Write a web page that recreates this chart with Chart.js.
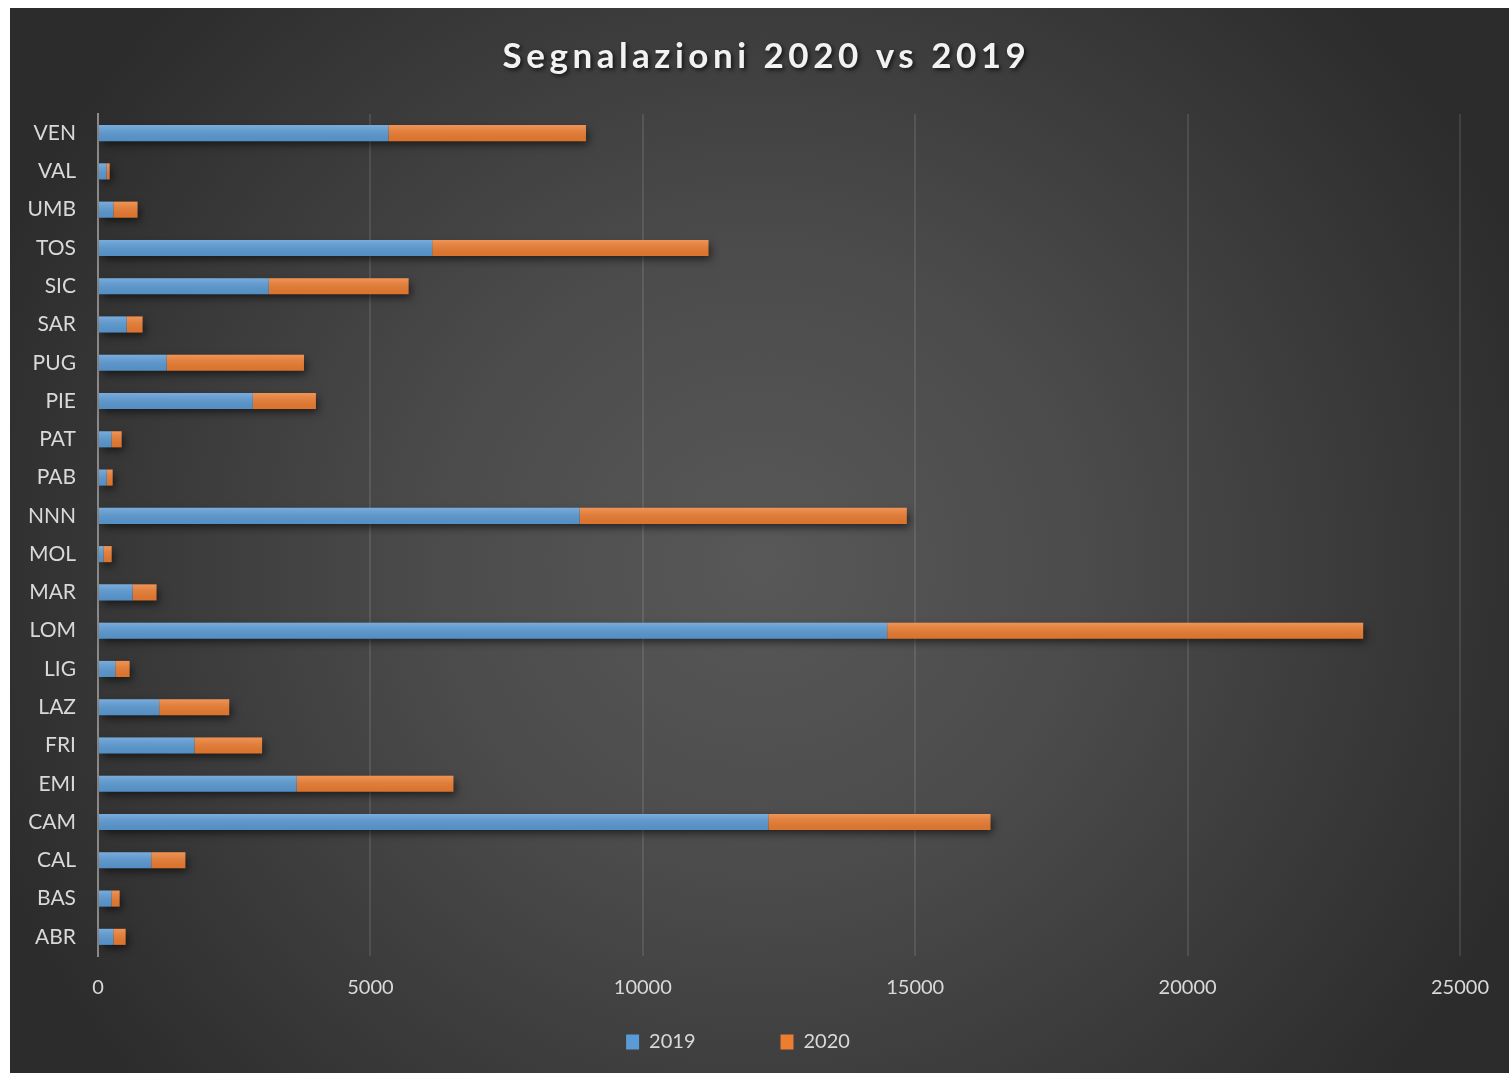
<!DOCTYPE html>
<html>
<head>
<meta charset="utf-8">
<title>Segnalazioni 2020 vs 2019</title>
<script src="https://cdn.jsdelivr.net/npm/chart.js@4"></script>
<style>
  body { margin: 0; background: #fff; }
  #wrap {
    position: absolute; left: 10px; top: 8px; width: 1499px; height: 1065px;
    background: radial-gradient(ellipse 55% 75% at 50% 52%, #585858 0%, #4b4b4b 40%, #2c2c2c 100%);
  }
</style>
</head>
<body>
<div id="wrap"><canvas id="chart" width="1499" height="1065"></canvas></div>
<script>
const TITLE = 'Segnalazioni 2020 vs 2019';

const regions = ['ABR', 'BAS', 'CAL', 'CAM', 'EMI', 'FRI', 'LAZ', 'LIG', 'LOM', 'MAR', 'MOL',
                 'NNN', 'PAB', 'PAT', 'PIE', 'PUG', 'SAR', 'SIC', 'TOS', 'UMB', 'VAL', 'VEN'];

const seg2019 = [281, 245, 977, 12304, 3647, 1769, 1123, 318, 14486, 635, 99,
                 8840, 159, 245, 2842, 1257, 525, 3135, 6134, 281, 159, 5330];

const seg2020 = [226, 152, 627, 4078, 2877, 1243, 1286, 262, 8737, 439, 152,
                 6006, 110, 189, 1158, 2524, 293, 2566, 5072, 445, 55, 3627];

const xTicks = [0, 5000, 10000, 15000, 20000, 25000];

const BLUE = '#5B9BD5';
const ORANGE = '#ED7D31';
const LABEL = '#d9d9d9';

Chart.defaults.font.family = 'Lato';

// one soft shadow under each whole stacked bar, then a light sheen on every segment
const barShade = {
    id: 'barShade',
    beforeDatasetsDraw(chart) {
        const ctx = chart.ctx;
        const first = chart.getDatasetMeta(0).data;
        const last = chart.getDatasetMeta(chart.data.datasets.length - 1).data;
        ctx.save();
        ctx.shadowColor = 'rgba(0,0,0,0.6)';
        ctx.shadowBlur = 8;
        ctx.shadowOffsetX = 3;
        ctx.shadowOffsetY = 4;
        ctx.fillStyle = '#333';
        first.forEach((bar, i) => {
            const a = bar.getProps(['y', 'base', 'height'], true);
            const b = last[i].getProps(['x'], true);
            const top = a.y - a.height / 2;
            ctx.fillRect(a.base + 1, top + 1, b.x - a.base - 2, a.height - 2);
        });
        ctx.restore();
    },
    afterDatasetsDraw(chart) {
        const ctx = chart.ctx;
        ctx.save();
        chart.data.datasets.forEach((ds, i) => {
            chart.getDatasetMeta(i).data.forEach(bar => {
                const p = bar.getProps(['x', 'y', 'base', 'height'], true);
                const top = p.y - p.height / 2;
                const g = ctx.createLinearGradient(0, top, 0, top + p.height);
                g.addColorStop(0, 'rgba(255,255,255,0.18)');
                g.addColorStop(1, 'rgba(0,0,0,0.08)');
                ctx.fillStyle = g;
                ctx.fillRect(Math.min(p.base, p.x), top, Math.abs(p.x - p.base), p.height);
            });
        });
        ctx.restore();
    }
};

// spaced-out bold title with a drop shadow
const spacedTitle = {
    id: 'spacedTitle',
    afterDraw(chart) {
        const ctx = chart.ctx;
        ctx.save();
        ctx.font = 'bold 35px Lato';
        ctx.letterSpacing = '4.5px';
        ctx.textAlign = 'center';
        ctx.textBaseline = 'alphabetic';
        ctx.shadowColor = 'rgba(0,0,0,0.7)';
        ctx.shadowBlur = 4;
        ctx.shadowOffsetX = 2;
        ctx.shadowOffsetY = 2;
        ctx.fillStyle = '#f2f2f2';
        ctx.fillText(TITLE, chart.width / 2 + 7, 60);
        ctx.restore();
    }
};

const ctx = document.getElementById('chart').getContext('2d');
const chart = new Chart(ctx, {
    type: 'bar',
    data: {
        labels: regions,
        datasets: [
            { label: '2019', data: seg2019, backgroundColor: BLUE, borderWidth: 0 },
            { label: '2020', data: seg2020, backgroundColor: ORANGE, borderWidth: 0 }
        ]
    },
    options: {
        indexAxis: 'y',
        responsive: false,
        animation: false,
        barPercentage: 0.42,
        categoryPercentage: 1.0,
        layout: { padding: { top: 106, right: 43, bottom: 11, left: 0 } },
        scales: {
            x: {
                stacked: true,
                min: xTicks[0],
                max: xTicks[xTicks.length - 1],
                ticks: {
                    stepSize: xTicks[1] - xTicks[0],
                    color: LABEL,
                    font: { size: 20 },
                    padding: 20,
                    callback: v => String(v)
                },
                grid: { color: 'rgba(255,255,255,0.1)', lineWidth: 2, drawTicks: false },
                border: { display: false },
                afterFit(s) { s.height = 66; }
            },
            y: {
                stacked: true,
                reverse: true,
                ticks: { color: LABEL, font: { size: 21 }, padding: 22 },
                grid: { display: false, drawTicks: false },
                border: { display: true, color: '#8a8a8a', width: 2 },
                afterFit(s) { s.width = 88; }
            }
        },
        plugins: {
            title: { display: false },
            tooltip: { enabled: false },
            legend: {
                position: 'bottom',
                labels: {
                    color: LABEL,
                    font: { size: 20 },
                    boxWidth: 13,
                    boxHeight: 15,
                    padding: 10,
                    generateLabels(c) {
                        const items = Chart.defaults.plugins.legend.labels.generateLabels(c);
                        return items.map((it, i) => ({
                            ...it,
                            text: it.text + (i < items.length - 1 ? '\u2003\u2003\u2003\u2003\u2003' : '')
                        }));
                    }
                }
            }
        }
    },
    plugins: [barShade, spacedTitle]
});
</script>
</body>
</html>
